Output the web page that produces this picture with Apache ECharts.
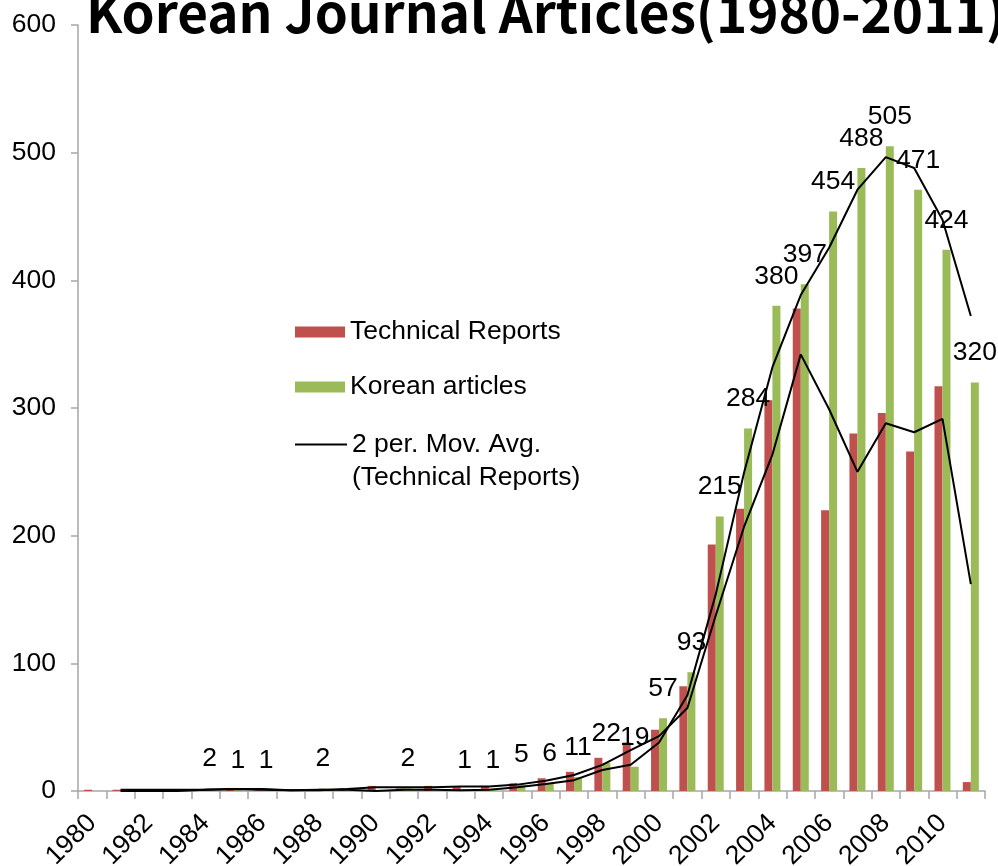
<!DOCTYPE html>
<html>
<head>
<meta charset="utf-8">
<script src="https://cdn.jsdelivr.net/npm/echarts@6/dist/echarts.min.js"></script>
<style>
  html, body { margin: 0; padding: 0; background: #fff; }
  #main { width: 998px; height: 866px; }
</style>
</head>
<body>
<div id="main"></div>
<script>
// 年份
var years = ['1980', '1981', '1982', '1983', '1984', '1985', '1986', '1987', '1988', '1989',
  '1990', '1991', '1992', '1993', '1994', '1995', '1996', '1997', '1998', '1999',
  '2000', '2001', '2002', '2003', '2004', '2005', '2006', '2007', '2008', '2009',
  '2010', '2011'];

// Technical Reports (red bars)
var techReports = [1, 1, 1, 1, 1, 2, 1, 0, 1, 2,
  4, 2, 4, 3, 4, 6, 10, 15, 26, 38,
  48, 82, 193, 221, 306, 378, 220, 280, 296, 266,
  317, 7];

// Korean articles (green bars), blank years have no bar
var koreanArticles = [null, null, null, null, 2, 1, 1, null, 2, null,
  null, 2, null, 1, 1, 5, 6, 11, 22, 19,
  57, 93, 215, 284, 380, 397, 454, 488, 505, 471,
  424, 320];

// 2 per. moving average lines
var techMovAvg = [null, 1, 1, 1, 1, 1.5, 1.5, 0.5, 0.5, 1.5,
  3, 3, 3, 3.5, 3.5, 5, 8, 12.5, 20.5, 32,
  43, 65, 137.5, 207, 263.5, 342, 299, 250, 288, 281,
  291.5, 162];

var koreanMovAvg = [null, 0, 0, 0, 1, 1.5, 1, 0.5, 1, 1,
  0, 1, 1, 0.5, 1, 3, 5.5, 8.5, 16.5, 20.5,
  38, 75, 154, 249.5, 332, 388.5, 425.5, 471, 496.5, 488,
  447.5, 372];

var yTicks = [0, 100, 200, 300, 400, 500, 600];

var FONT = 'Liberation Sans';
var FONT_SIZE = 26.5;
var AXIS_GRAY = '#a6a6a6';

var chart = echarts.init(document.getElementById('main'));

var option = {
  animation: false,
  backgroundColor: '#fff',
  title: {
    text: 'Korean Journal Articles(1980-2011)',
    left: 81,
    top: -19,
    textStyle: {
      fontFamily: 'Noto Sans CJK SC',
      fontWeight: 'bold',
      fontSize: 53,
      color: '#000'
    }
  },
  // 图例：分开放置
  legend: [
    {
      data: [{ name: 'Technical Reports', icon: 'rect' }],
      left: 290,
      top: 312,
      itemWidth: 50,
      itemHeight: 11,
      textStyle: { fontFamily: FONT, fontSize: FONT_SIZE, color: '#000', lineHeight: 30 }
    },
    {
      data: [{ name: 'Korean articles', icon: 'rect' }],
      left: 290,
      top: 367,
      itemWidth: 50,
      itemHeight: 11,
      textStyle: { fontFamily: FONT, fontSize: FONT_SIZE, color: '#000', lineHeight: 30 }
    },
    {
      data: [{ name: '2 per. Mov. Avg. (Technical Reports)', icon: 'rect' }],
      left: 290,
      top: 390,
      itemWidth: 52,
      itemHeight: 2,
      // 空行让线条对齐第一行
      formatter: function () {
        return ' \n2 per. Mov. Avg.\n(Technical Reports)';
      },
      textStyle: { fontFamily: FONT, fontSize: FONT_SIZE, color: '#000', lineHeight: 33 }
    }
  ],
  grid: {
    left: 78,
    right: 13,
    top: 25,
    bottom: 75,
    outerBoundsMode: 'none'
  },
  xAxis: {
    type: 'category',
    data: years,
    boundaryGap: true,
    axisLine: { lineStyle: { color: AXIS_GRAY, width: 1.5 } },
    axisTick: { show: true, interval: 0, length: 8, lineStyle: { color: AXIS_GRAY, width: 1.5 } },
    axisLabel: {
      interval: 1,
      rotate: 45,
      margin: 28,
      fontFamily: FONT,
      fontSize: FONT_SIZE,
      color: '#000'
    }
  },
  yAxis: {
    type: 'value',
    min: yTicks[0],
    max: yTicks[yTicks.length - 1],
    interval: 100,
    splitLine: { show: false },
    axisLine: { show: true, lineStyle: { color: AXIS_GRAY, width: 1.5 } },
    axisTick: { show: true, length: 7, lineStyle: { color: AXIS_GRAY, width: 1.5 } },
    axisLabel: {
      margin: 22,
      fontFamily: FONT,
      fontSize: FONT_SIZE,
      color: '#000'
    }
  },
  series: [
    {
      name: 'Technical Reports',
      type: 'bar',
      data: techReports,
      barWidth: 8,
      barGap: '0%',
      itemStyle: { color: '#c0504d' }
    },
    {
      name: 'Korean articles',
      type: 'bar',
      data: koreanArticles,
      barWidth: 8,
      barGap: '0%',
      itemStyle: { color: '#9bbb59' },
      label: {
        show: true,
        position: 'top',
        distance: 16,
        fontFamily: FONT,
        fontSize: FONT_SIZE,
        color: '#000'
      }
    },
    {
      name: '2 per. Mov. Avg. (Technical Reports)',
      type: 'line',
      data: techMovAvg,
      showSymbol: false,
      symbol: 'none',
      itemStyle: { color: '#000' },
      lineStyle: { color: '#000', width: 2 },
      z: 5
    },
    {
      name: '2 per. Mov. Avg. (Korean articles)',
      type: 'line',
      data: koreanMovAvg,
      showSymbol: false,
      symbol: 'none',
      itemStyle: { color: '#000' },
      lineStyle: { color: '#000', width: 2 },
      z: 5
    }
  ]
};

chart.setOption(option);
</script>
</body>
</html>
